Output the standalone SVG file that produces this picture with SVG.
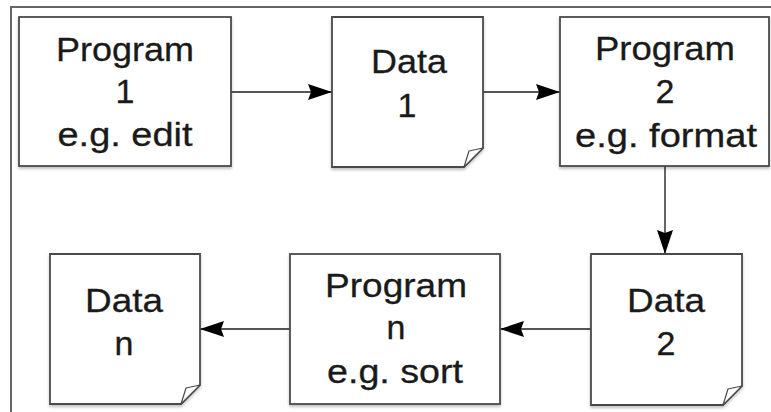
<svg xmlns="http://www.w3.org/2000/svg" width="771" height="412" viewBox="0 0 771 412">
<defs>
<style>
.box{fill:#fff;stroke:#4a4a4a;stroke-width:1.8;filter:url(#sh)}
.curl{fill:#fff;stroke:#4a4a4a;stroke-width:1.2;stroke-linejoin:round}
.t{font-family:"Liberation Sans",Arial,Helvetica,sans-serif;font-size:34px;fill:#1a1a1a;stroke:#1a1a1a;stroke-width:0.3;text-anchor:middle}
.c{stroke:#555;stroke-width:1.8;fill:none;marker-end:url(#ah)}
.frame{stroke:#666;stroke-width:2;fill:none}
</style>
<filter id="sh" x="-10%" y="-10%" width="120%" height="125%">
<feDropShadow dx="0" dy="2" stdDeviation="1.5" flood-color="#000" flood-opacity="0.25"/>
</filter>
<marker id="ah" viewBox="0 0 24 18" refX="24" refY="9" markerWidth="24" markerHeight="18" markerUnits="userSpaceOnUse" orient="auto">
<path d="M0,1 L24,9 L0,17 L3,9 Z" fill="#000"/>
</marker>
</defs>
<rect width="771" height="412" fill="#fff"/>
<path class="frame" d="M11,412 V7 H771"/>
<g id="connectors">
<line class="c" x1="231" y1="92" x2="332" y2="92"/>
<line class="c" x1="483" y1="92" x2="560" y2="92"/>
<line class="c" x1="665" y1="166" x2="665" y2="254"/>
<line class="c" x1="591" y1="329" x2="500" y2="329"/>
<line class="c" x1="290" y1="329" x2="200" y2="329"/>
</g>
<g id="program1">
<rect class="box" x="19" y="17" width="212" height="149"/>
<text class="t"><tspan x="125" y="61" textLength="138" lengthAdjust="spacingAndGlyphs">Program</tspan><tspan x="125" y="103">1</tspan><tspan x="125" y="146" textLength="135" lengthAdjust="spacingAndGlyphs">e.g. edit</tspan></text>
</g>
<g id="data1">
<path class="box" d="M332,17 H483 V148 L464,167 H332 Z"/>
<path class="curl" d="M483,148 L469,151 L464,167 Z"/>
<text class="t"><tspan x="409" y="73" textLength="76" lengthAdjust="spacingAndGlyphs">Data</tspan><tspan x="407" y="117">1</tspan></text>
</g>
<g id="program2">
<rect class="box" x="560" y="17" width="209" height="149"/>
<text class="t"><tspan x="665" y="60" textLength="140" lengthAdjust="spacingAndGlyphs">Program</tspan><tspan x="665" y="103">2</tspan><tspan x="666" y="147" textLength="182" lengthAdjust="spacingAndGlyphs">e.g. format</tspan></text>
</g>
<g id="data2">
<path class="box" d="M591,254 H742 V386 L723,405 H591 Z"/>
<path class="curl" d="M742,386 L728,389 L723,405 Z"/>
<text class="t"><tspan x="666" y="312" textLength="78" lengthAdjust="spacingAndGlyphs">Data</tspan><tspan x="666" y="355">2</tspan></text>
</g>
<g id="programn">
<rect class="box" x="290" y="254" width="210" height="150"/>
<text class="t"><tspan x="396" y="297" textLength="142" lengthAdjust="spacingAndGlyphs">Program</tspan><tspan x="396" y="339">n</tspan><tspan x="395" y="383" textLength="136" lengthAdjust="spacingAndGlyphs">e.g. sort</tspan></text>
</g>
<g id="datan">
<path class="box" d="M50,254 H200 V385 L181,404 H50 Z"/>
<path class="curl" d="M200,385 L186,388 L181,404 Z"/>
<text class="t"><tspan x="124" y="312" textLength="78" lengthAdjust="spacingAndGlyphs">Data</tspan><tspan x="124" y="355">n</tspan></text>
</g>
</svg>
